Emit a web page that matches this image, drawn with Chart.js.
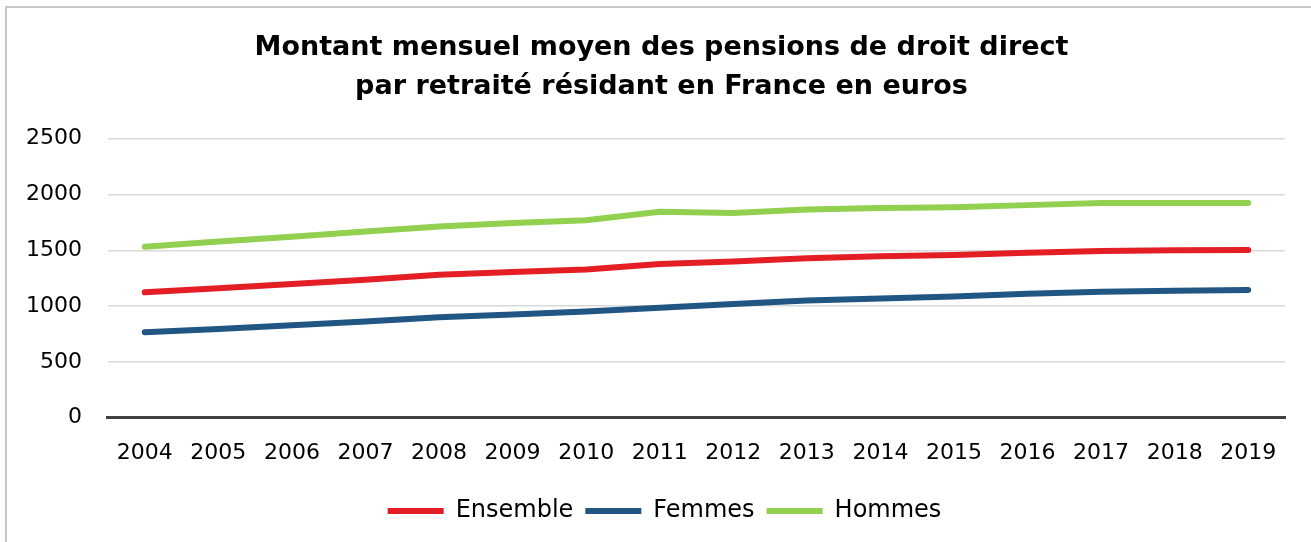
<!DOCTYPE html>
<html><head><meta charset="utf-8">
<script src="https://cdn.jsdelivr.net/npm/chart.js@4.4.0/dist/chart.umd.min.js"></script>
<style>html,body{margin:0;padding:0;background:#fff}#wrap{width:1311px;height:542px;position:relative}</style>
</head><body><div id="wrap"><canvas id="c" width="1311" height="542"></canvas></div>
<script>
const years = ['2004','2005','2006','2007','2008','2009','2010','2011','2012','2013','2014','2015','2016','2017','2018','2019'];
const ensemble = [1124,1160,1198,1236,1280,1305,1327,1377,1400,1428,1447,1458,1477,1494,1500,1503];
const femmes   = [766,795,828,862,900,925,952,984,1018,1049,1068,1086,1110,1128,1138,1145];
const hommes   = [1532,1578,1622,1668,1714,1745,1770,1845,1835,1866,1880,1887,1905,1925,1925,1925];
const yTicks = [0,500,1000,1500,2000,2500];
const titleLines = ['Montant mensuel moyen des pensions de droit direct','par retraité résidant en France en euros'];

const FONT = '"DejaVu Sans", sans-serif';
const frame = {
  id:'frame',
  beforeDraw(chart){
    const c = chart.ctx; c.save();
    c.fillStyle='#fff'; c.fillRect(0,0,chart.width,chart.height);
    c.strokeStyle='#c8c8c8'; c.lineWidth=2;
    c.beginPath(); c.moveTo(6,542); c.lineTo(6,7); c.lineTo(1311,7); c.stroke();
    c.restore();
  },
  afterLayout(chart){
    const t = chart.titleBlock; if(t){t.left+=19;t.right+=19;}
    const l = chart.legend; if(l){l.left+=22;l.right+=22;l.top-=1;l.bottom-=1;}
  }
};
const mk = (label,data,color)=>({label,data,borderColor:color,backgroundColor:color,borderWidth:6,pointRadius:0,tension:0,borderCapStyle:'round',borderJoinStyle:'round',fill:false});
new Chart(document.getElementById('c'),{
  type:'line',
  data:{labels:years,datasets:[mk('Ensemble',ensemble,'#e31e25'),mk('Femmes',femmes,'#215584'),mk('Hommes',hommes,'#92d050')]},
  options:{
    responsive:false,animation:false,
    layout:{padding:{left:0,right:26,top:0,bottom:8}},
    plugins:{
      title:{display:true,text:titleLines,font:{family:FONT,size:27,weight:'bold',lineHeight:1.44},color:'#000',padding:{top:29,bottom:32}},
      legend:{position:'bottom',labels:{font:{family:FONT,size:24},color:'#000',usePointStyle:true,pointStyle:'line',pointStyleWidth:56,boxHeight:6,boxWidth:56,padding:12}},
      tooltip:{enabled:false}
    },
    scales:{
      x:{offset:true,grid:{display:false,drawTicks:false},border:{display:true,color:'#404040',width:3},
         ticks:{font:{family:FONT,size:22},color:'#000',padding:22,maxRotation:0,autoSkip:false}},
      y:{min:0,max:2500,afterBuildTicks(a){a.ticks=yTicks.map(v=>({value:v}));},
         grid:{color:c=>c.tick&&c.tick.value===0?'rgba(0,0,0,0)':'#d9d9d9',lineWidth:1.5,drawTicks:false},
         border:{display:false},
         ticks:{font:{family:FONT,size:22},color:'#000',padding:26,callback:v=>String(v)}}
    }
  },
  plugins:[frame]
});
</script></body></html>
